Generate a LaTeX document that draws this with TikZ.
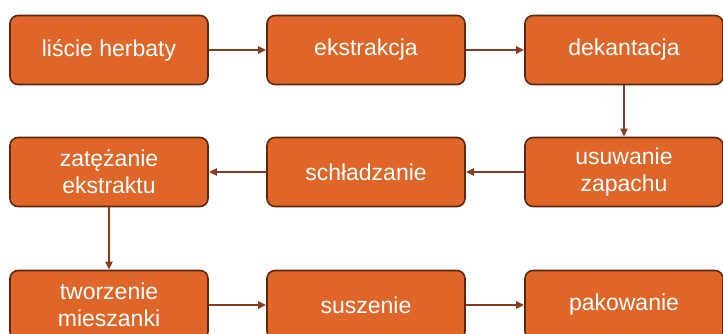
\documentclass[tikz,border=0pt]{standalone}
\usepackage{fontspec}
\setmainfont{Liberation Sans}
\usetikzlibrary{arrows.meta}

\definecolor{krokfill}{HTML}{DF6628}
\definecolor{krokedge}{HTML}{5C2810}
\definecolor{strzalka}{HTML}{8A3A1E}

\tikzset{
  krok/.style={draw=krokedge, line width=1.6pt, fill=krokfill, rounded corners=8pt,
    minimum width=198pt, minimum height=69pt, inner sep=0pt, align=center,
    text=white, font=\fontsize{23}{27}\selectfont},
  strz/.style={draw=strzalka, line width=2pt, -{Triangle[length=8pt,width=7pt]}}
}

\begin{document}
\begin{tikzpicture}[x=1pt, y=-1pt]

  %% ════ tło / płótno ════
  \path[use as bounding box] (0,0) rectangle (723,333);

  %% ════ wiersz 1 ════
  \node[krok] (lisc) at (109,50) {liście herbaty};
  \node[krok] (ekstr) at (366,50) {ekstrakcja};
  \node[krok] (dekan) at (624,50) {dekantacja};

  %% ════ wiersz 2 ════
  \node[krok] (zapach) at (624,172) {usuwanie\\zapachu};
  \node[krok] (schl) at (366,172) {schładzanie};
  \node[krok] (zatez) at (109,172) {zatężanie\\ekstraktu};

  %% ════ wiersz 3 ════
  \node[krok] (miesz) at (109,305) {tworzenie\\mieszanki};
  \node[krok] (susz) at (366,305) {suszenie};
  \node[krok] (pak) at (624,305) {pakowanie};

  %% ════ strzałki ════
  \draw[strz] (lisc) -- (ekstr);
  \draw[strz] (ekstr) -- (dekan);
  \draw[strz] (dekan) -- (zapach);
  \draw[strz] (zapach) -- (schl);
  \draw[strz] (schl) -- (zatez);
  \draw[strz] (zatez) -- (miesz);
  \draw[strz] (miesz) -- (susz);
  \draw[strz] (susz) -- (pak);
\end{tikzpicture}
\end{document}
